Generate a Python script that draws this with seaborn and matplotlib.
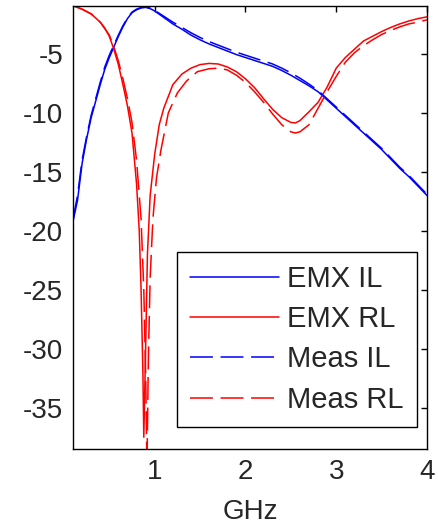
import numpy as np
import pandas as pd
import matplotlib
matplotlib.use("Agg")
import matplotlib.pyplot as plt
import seaborn as sns

# ---- data ----
emx_il_f = [0.1, 0.15, 0.2, 0.25, 0.3, 0.35, 0.4, 0.45, 0.5, 0.55, 0.6, 0.65, 0.7, 0.75, 0.8,
            0.85, 0.9, 0.95, 1.0, 1.1, 1.2, 1.3, 1.4, 1.5, 1.6, 1.7, 1.8, 1.9, 2.0, 2.1, 2.2,
            2.3, 2.4, 2.5, 2.6, 2.7, 2.8, 2.9, 3.0, 3.1, 3.2, 3.3, 3.4, 3.5, 3.6, 3.7, 3.8, 3.9, 4.0]
emx_il = [-19.2, -17.4, -14.3, -12.2, -10.4, -9.0, -7.6, -6.3, -5.3, -4.4, -3.5, -2.7, -2.0, -1.5, -1.25,
          -1.1, -1.05, -1.15, -1.35, -1.9, -2.45, -2.9, -3.4, -3.8, -4.15, -4.45, -4.75, -5.05, -5.3, -5.55, -5.8,
          -6.05, -6.4, -6.8, -7.25, -7.7, -8.2, -8.9, -9.6, -10.3, -11.0, -11.7, -12.4, -13.1, -13.9, -14.7, -15.4, -16.2, -17.0]

meas_il_f = [0.1, 0.15, 0.2, 0.25, 0.3, 0.35, 0.4, 0.45, 0.5, 0.55, 0.6, 0.65, 0.7, 0.75, 0.8,
             0.85, 0.9, 0.95, 1.0, 1.1, 1.2, 1.3, 1.4, 1.5, 1.6, 1.7, 1.8, 1.9, 2.0, 2.1, 2.2,
             2.3, 2.4, 2.5, 2.6, 2.7, 2.8, 2.9, 3.0, 3.1, 3.2, 3.3, 3.4, 3.5, 3.6, 3.7, 3.8, 3.9, 4.0]
meas_il = [-19.0, -17.0, -14.0, -12.0, -10.2, -8.8, -7.4, -6.1, -5.1, -4.25, -3.4, -2.6, -1.95, -1.45, -1.2,
           -1.05, -1.0, -1.1, -1.3, -1.8, -2.3, -2.75, -3.2, -3.6, -3.95, -4.25, -4.55, -4.85, -5.1, -5.35, -5.6,
           -5.85, -6.2, -6.6, -7.05, -7.55, -8.1, -8.8, -9.5, -10.2, -10.9, -11.6, -12.3, -13.0, -13.8, -14.6, -15.3, -16.1, -16.9]

emx_rl_f = [0.1, 0.2, 0.3, 0.4, 0.45, 0.5, 0.55, 0.6, 0.65, 0.7, 0.75, 0.8, 0.83, 0.85, 0.87,
            0.88, 0.9, 0.92, 0.95, 1.0, 1.05, 1.1, 1.2, 1.3, 1.4, 1.5, 1.6, 1.7, 1.8, 1.9, 2.0,
            2.1, 2.2, 2.3, 2.4, 2.5, 2.55, 2.6, 2.7, 2.8, 2.9, 3.0, 3.1, 3.2, 3.3, 3.4, 3.5,
            3.6, 3.7, 3.8, 3.9, 4.0]
emx_rl = [-0.9, -1.2, -1.6, -2.3, -2.8, -3.5, -4.6, -5.9, -7.6, -9.4, -11.7, -16.0, -20.0, -25.0, -32.0,
          -37.5, -30.0, -22.0, -17.0, -13.5, -11.0, -9.6, -7.6, -6.7, -6.2, -5.9, -5.8, -5.85, -6.1, -6.5, -7.1,
          -7.85, -8.8, -9.7, -10.4, -10.8, -10.85, -10.65, -9.9, -9.1, -7.8, -6.2, -5.3, -4.6, -3.9, -3.5, -3.1,
          -2.75, -2.45, -2.2, -2.0, -1.85]

meas_rl_f = [0.1, 0.2, 0.3, 0.4, 0.5, 0.55, 0.6, 0.65, 0.7, 0.75, 0.8, 0.85, 0.88, 0.9, 0.915,
             0.93, 0.95, 0.98, 1.02, 1.07, 1.15, 1.25, 1.35, 1.47, 1.6, 1.7, 1.8, 1.9, 2.0,
             2.1, 2.2, 2.3, 2.4, 2.5, 2.55, 2.6, 2.7, 2.8, 2.9, 3.0, 3.1, 3.2, 3.3, 3.4, 3.5,
             3.6, 3.7, 3.8, 3.9, 4.0]
meas_rl = [-0.9, -1.2, -1.6, -2.3, -3.4, -4.4, -5.6, -7.1, -8.8, -10.8, -14.0, -19.0, -25.0, -32.0, -40.0,
           -31.0, -24.0, -19.0, -15.5, -13.1, -10.0, -8.3, -7.3, -6.5, -6.25, -6.2, -6.35, -6.8, -7.4,
           -8.2, -9.1, -10.1, -11.0, -11.6, -11.7, -11.6, -11.0, -9.6, -8.2, -6.9, -5.7, -4.9, -4.3, -3.8, -3.35,
           -3.0, -2.7, -2.45, -2.3, -2.1]

x_ticks = [1, 2, 3, 4]
y_ticks = [-35, -30, -25, -20, -15, -10, -5]
labels = ["EMX IL", "EMX RL", "Meas IL", "Meas RL"]

# ---- style ----
sns.set_style("white")
plt.rcParams["font.family"] = ["Liberation Sans", "DejaVu Sans"]
plt.rcParams["font.size"] = 20
plt.rcParams["axes.unicode_minus"] = False

fig = plt.figure(figsize=(4.39, 5.26), dpi=100)
ax = fig.add_axes([73 / 439, 1 - 449 / 526, (427 - 73) / 439, (449 - 6) / 526])

series = [
    (emx_il_f, emx_il, "blue", "-", labels[0]),
    (emx_rl_f, emx_rl, "red", "-", labels[1]),
    (meas_il_f, meas_il, "blue", "--", labels[2]),
    (meas_rl_f, meas_rl, "red", "--", labels[3]),
]
DASH = (15, 5)
for f, v, c, ls, lab in series:
    df = pd.DataFrame({"f": f, "v": v})
    sns.lineplot(data=df, x="f", y="v", ax=ax, color=c, linewidth=1.1,
                 linestyle=ls, label=lab, sort=False, estimator=None)

for line in ax.get_lines():
    if line.get_linestyle() == "--":
        line.set_dashes(DASH)

ax.set_xlim(0.1, 4.0)
ax.set_ylim(-38.5, -0.93)
ax.set_xticks(x_ticks)
ax.set_yticks(y_ticks)
ax.set_xlabel("GHz", fontsize=20, labelpad=10)
ax.set_ylabel("")
ax.tick_params(direction="in", length=4, width=1, top=True, right=True,
               labelsize=20, pad=7, color="black")
for s in ax.spines.values():
    s.set_color("black")
    s.set_linewidth(1.0)
    s.set_visible(True)

leg = ax.legend(loc="lower right", bbox_to_anchor=(0.972, 0.05), borderaxespad=0,
                fontsize=21, handlelength=3.05, handletextpad=0.3, labelspacing=0.42,
                borderpad=0.45, fancybox=False, framealpha=1, edgecolor="black")
leg.get_frame().set_linewidth(1.0)
for h in leg.get_lines():
    if h.get_linestyle() == "--":
        h.set_dashes(DASH)

fig.savefig("out.png", dpi=100)
